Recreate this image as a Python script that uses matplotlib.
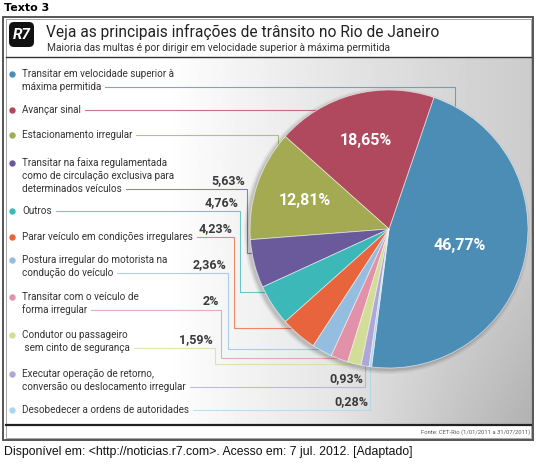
import matplotlib; matplotlib.use('Agg')
import numpy as np
import matplotlib.pyplot as plt
from matplotlib.patches import Rectangle, FancyBboxPatch, Circle

W, H = 536, 465

# --- data ---
infracoes = [
    'Transitar em velocidade superior à\nmáxima permitida',
    'Avançar sinal',
    'Estacionamento irregular',
    'Transitar na faixa regulamentada\ncomo de circulação exclusiva para\ndeterminados veículos',
    'Outros',
    'Parar veículo em condições irregulares',
    'Postura irregular do motorista na\ncondução do veículo',
    'Transitar com o veículo de\nforma irregular',
    'Condutor ou passageiro\n sem cinto de segurança',
    'Executar operação de retorno,\nconversão ou deslocamento irregular',
    'Desobedecer a ordens de autoridades',
]
percentuais = [46.77, 18.65, 12.81, 5.63, 4.76, 4.23, 2.36, 2.0, 1.59, 0.93, 0.28]
rotulos = ['46,77%', '18,65%', '12,81%', '5,63%', '4,76%', '4,23%', '2,36%', '2%', '1,59%', '0,93%', '0,28%']
cores = ['#4b8db5', '#b0485e', '#a3aa52', '#6a5a9c', '#3db8b8', '#e8643c',
         '#94bde0', '#e291a8', '#d2de98', '#aea6d6', '#a8d8f0']

# --- layout (pixels) ---
CX, CY, R = 389, 229, 139
leader_y = [87, 110, 135, 189, 211, 237, 273, 310, 348, 387, 410]
elbow_x = [455, 389, 278, 247, 240, 234, 228, 221, 215, 365, 370]
drop_y = [229, 110, 229, 253, 292, 328, 349, 358, 364, 229, 229]
inner_dist = [0.52, 0.66, 0.64]
LINE_H = 13

FONT = 'Roboto'

fig = plt.figure(figsize=(W / 100, H / 100), dpi=100)
ax = fig.add_axes([0, 0, 1, 1])
ax.set_xlim(0, W); ax.set_ylim(H, 0)
ax.axis('off')

# panel background (grey street photo approximation)
X, Y = np.meshgrid(np.linspace(5, 531, 300), np.linspace(58, 424, 200))
bg = 1 - 0.2 * np.clip((X - 170) / 360, 0, 1) ** 0.9 \
     - 0.10 * np.clip((Y - 240) / 180, 0, 1) * np.clip((X - 330) / 200, 0, 1)
ax.imshow(bg, cmap='gray', vmin=0, vmax=1, extent=(5, 531, 424, 58), zorder=0, aspect='auto')

# frame
ax.add_patch(Rectangle((3, 17), 530, 423, fill=False, ec='#555555', lw=1.4, zorder=5))
ax.add_patch(Rectangle((5.5, 19.5), 525, 418, fill=False, ec='#999999', lw=0.6, zorder=5))
ax.add_patch(Rectangle((5.5, 19.5), 525, 38, fc='white', ec='none', zorder=1))
ax.plot([5.5, 530.5], [57.5, 57.5], color='#333333', lw=1.0, zorder=5)
ax.plot([5.5, 530.5], [425, 425], color='#222222', lw=1.6, zorder=5)
ax.add_patch(Rectangle((5.5, 426), 525, 11.5, fc='white', ec='none', zorder=1))

# header
ax.text(4, 8, 'Texto 3', fontsize=8, fontweight='bold', family='DejaVu Sans', va='center', ha='left')
ax.add_patch(FancyBboxPatch((9, 22), 25, 25, boxstyle='round,pad=0,rounding_size=5',
                            fc='#111111', ec='none', zorder=6))
ax.text(21.5, 35, 'R7', color='white', fontsize=11, fontweight='bold', style='italic',
        family=FONT, ha='center', va='center', zorder=7)
ax.text(46, 32, 'Veja as principais infrações de trânsito no Rio de Janeiro', fontsize=11.2,
        family=FONT, color='#222222', va='center', ha='left', zorder=6)
ax.text(47, 48, 'Maioria das multas é por dirigir em velocidade superior à máxima permitida',
        fontsize=7.4, family=FONT, color='#333333', va='center', ha='left', zorder=6)

# legend texts, dots and leader lines
renderer = fig.canvas.get_renderer()
inv = ax.transData.inverted()
for i, (lab, cor) in enumerate(zip(infracoes, cores)):
    linhas = lab.split('\n')
    n = len(linhas)
    y_first = leader_y[i] - (n - 1) * LINE_H
    x_end = 0
    for k, ln in enumerate(linhas):
        t = ax.text(22, y_first + k * LINE_H, ln, fontsize=7.1, family=FONT, color='#333333',
                    va='center', ha='left', zorder=6)
        if k == n - 1:
            bb = t.get_window_extent(renderer=renderer)
            x_end = inv.transform((bb.x1, bb.y0))[0]
    ax.plot(12, y_first, 'o', ms=4.6, color=cor, mec='none', zorder=6)
    y0 = leader_y[i]
    ax.plot([x_end + 4, elbow_x[i], elbow_x[i], CX], [y0, y0, drop_y[i], drop_y[i]],
            color=cor, lw=0.8, alpha=0.75, zorder=2)
    if i >= 3:
        ax.text(elbow_x[i] - 2, y0 - 8.5, rotulos[i], fontsize=9, fontweight='bold',
                family=FONT, color='#3a3a3a', ha='right', va='center', zorder=6)

# pie shadow
for dr, a in [(4, 0.05), (2.5, 0.07), (1, 0.09)]:
    ax.add_patch(Circle((CX - 2, CY + 2), R + dr, fc='black', ec='none', alpha=a, zorder=3))

wedges, _ = ax.pie(percentuais, colors=cores, startangle=97.2, counterclock=False,
                   center=(CX, CY), radius=R, frame=True,
                   wedgeprops=dict(ec=(1, 1, 1, 0.6), lw=0.6, zorder=4))
for w in wedges:
    w.set_zorder(4)

for i in range(3):
    w = wedges[i]
    mid = np.deg2rad((w.theta1 + w.theta2) / 2)
    ax.text(CX + inner_dist[i] * R * np.cos(mid), CY + inner_dist[i] * R * np.sin(mid), rotulos[i],
            color='white', fontsize=11.5, fontweight='bold', family=FONT,
            ha='center', va='center', zorder=7)

ax.set_xlim(0, W); ax.set_ylim(H, 0)
ax.set_aspect('auto')

# source & footer
ax.text(530, 432, 'Fonte: CET-Rio (1/01/2011 a 31/07/2011)', fontsize=4.2, family=FONT,
        color='#555555', ha='right', va='center', zorder=6)
ax.text(4, 452, 'Disponível em: <http://noticias.r7.com>. Acesso em: 7 jul. 2012. [Adaptado]',
        fontsize=8.8, family='Liberation Sans', color='#111111', ha='left', va='center')

fig.savefig('out.png', dpi=100)
